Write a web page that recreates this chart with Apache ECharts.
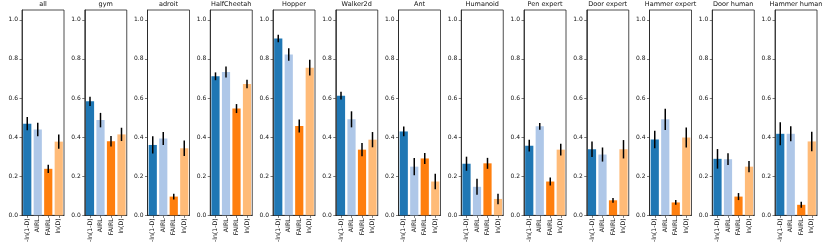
<!DOCTYPE html>
<html><head><meta charset="utf-8">
<script src="https://cdn.jsdelivr.net/npm/echarts@6/dist/echarts.min.js"></script>
<style>html,body{margin:0;padding:0;background:#fff}#c{width:830px;height:245px}</style>
</head><body><div id="c"></div>
<script>
const panels = ['all','gym','adroit','HalfCheetah','Hopper','Walker2d','Ant','Humanoid','Pen expert','Door expert','Hammer expert','Door human','Hammer human'];
const methods = ['-ln(1-D)','AIRL','FAIRL','ln(D)'];
const colors = ['#1f77b4','#aec7e8','#ff7f0e','#ffbb78'];
const yTicks = [0, 0.2, 0.4, 0.6, 0.8, 1.0];

const meanNegLn1mD = [0.469,0.583,0.360,0.711,0.904,0.612,0.429,0.264,0.356,0.338,0.388,0.289,0.417];
const meanAIRL     = [0.439,0.487,0.393,0.733,0.822,0.491,0.249,0.146,0.455,0.311,0.491,0.287,0.417];
const meanFAIRL    = [0.238,0.379,0.096,0.546,0.457,0.336,0.291,0.266,0.173,0.077,0.066,0.096,0.054];
const meanLnD      = [0.377,0.414,0.343,0.672,0.755,0.387,0.173,0.084,0.336,0.338,0.398,0.249,0.378];

const errNegLn1mD = [0.034,0.024,0.044,0.020,0.019,0.020,0.025,0.036,0.030,0.040,0.045,0.050,0.059];
const errAIRL     = [0.034,0.037,0.033,0.028,0.032,0.041,0.044,0.041,0.017,0.036,0.054,0.030,0.038];
const errFAIRL    = [0.021,0.027,0.015,0.023,0.033,0.034,0.028,0.028,0.020,0.012,0.012,0.018,0.015];
const errLnD      = [0.037,0.034,0.040,0.022,0.040,0.039,0.040,0.027,0.030,0.047,0.051,0.029,0.050];

const means = [meanNegLn1mD, meanAIRL, meanFAIRL, meanLnD];
const errs = [errNegLn1mD, errAIRL, errFAIRL, errLnD];

const FONT = 'DejaVu Sans';
const grids = [], xAxes = [], yAxes = [], series = [], titles = [];
panels.forEach((name, i) => {
  const left = 22 + i * 62.75;
  grids.push({left: left, top: 10, width: 42, height: 208, show: true, borderColor: '#222', borderWidth: 0.8, backgroundColor: 'transparent'});
  titles.push({text: name, left: left + 21, top: 1, textAlign: 'center', padding: 0,
    textStyle: {fontFamily: FONT, fontSize: 6.5, fontWeight: 'normal', color: '#111'}});
  xAxes.push({gridIndex: i, type: 'category', data: methods,
    axisLine: {show: true, lineStyle: {color: '#222', width: 0.8}},
    axisTick: {show: true, alignWithLabel: true, length: 2.5, lineStyle: {color: '#222', width: 0.6}},
    axisLabel: {rotate: 90, fontFamily: FONT, fontSize: 6.2, color: '#111', margin: 3, interval: 0}});
  yAxes.push({gridIndex: i, type: 'value', min: 0, max: 1.05, interval: 0.2,
    splitLine: {show: false},
    axisLine: {show: true, lineStyle: {color: '#222', width: 0.8}},
    axisTick: {show: true, length: 2.5, lineStyle: {color: '#222', width: 0.6}},
    axisLabel: {fontFamily: FONT, fontSize: 6, color: '#111', margin: 4, showMaxLabel: false,
      formatter: v => yTicks.some(t => Math.abs(t - v) < 1e-6) ? v.toFixed(1) : ''}});
  series.push({type: 'bar', xAxisIndex: i, yAxisIndex: i, barWidth: 8.2, silent: true,
    data: methods.map((m, k) => ({value: means[k][i], itemStyle: {color: colors[k]}}))});
  series.push({type: 'custom', xAxisIndex: i, yAxisIndex: i, silent: true, z: 10,
    data: methods.map((m, k) => [k, means[k][i], errs[k][i]]),
    renderItem: (params, api) => {
      const x = api.value(0), m = api.value(1), e = api.value(2);
      const p1 = api.coord([x, m - e]), p2 = api.coord([x, m + e]);
      return {type: 'line', shape: {x1: p1[0], y1: p1[1], x2: p2[0], y2: p2[1]},
        style: {stroke: '#000', lineWidth: 1.5}};
    }});
});

const chart = echarts.init(document.getElementById('c'), null, {renderer: 'canvas'});
chart.setOption({animation: false, backgroundColor: '#fff', title: titles, grid: grids, xAxis: xAxes, yAxis: yAxes, series: series});
</script>
</body></html>
